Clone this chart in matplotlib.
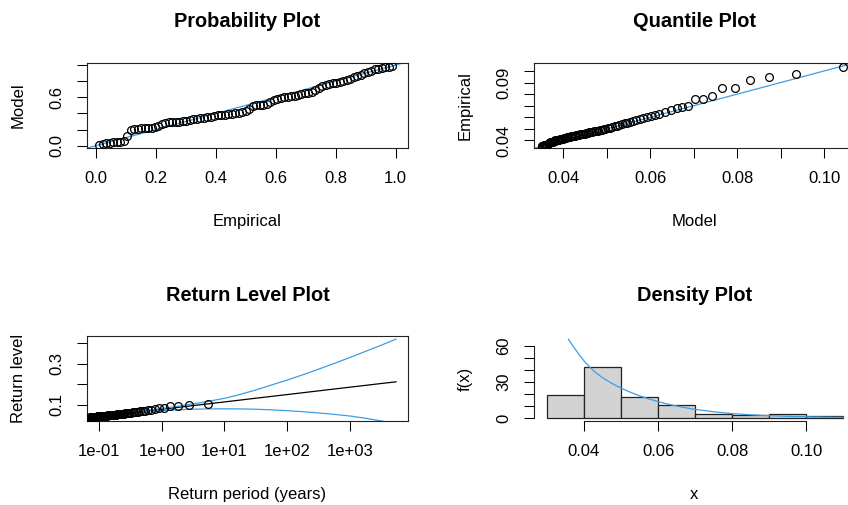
import numpy as np
import matplotlib
matplotlib.use('Agg')
import matplotlib.pyplot as plt

plt.rcParams['font.family'] = ['Liberation Sans', 'DejaVu Sans']

excess = [0.0354, 0.0355, 0.0356, 0.0357, 0.0358, 0.0359, 0.0360, 0.0362, 0.0372, 0.0380,
          0.0384, 0.0386, 0.0388, 0.0391, 0.0394, 0.0398,
          0.0401, 0.0403, 0.0405, 0.0408, 0.0410, 0.0412, 0.0414, 0.0417, 0.0419, 0.0422,
          0.0424, 0.0426, 0.0429, 0.0432, 0.0435, 0.0437, 0.0440, 0.0442, 0.0445, 0.0447,
          0.0450, 0.0452, 0.0455, 0.0458, 0.0460, 0.0463, 0.0466, 0.0469, 0.0472, 0.0475,
          0.0478, 0.0481, 0.0484, 0.0488, 0.0493, 0.0497,
          0.0503, 0.0508, 0.0512, 0.0516, 0.0521, 0.0527, 0.0533, 0.0540, 0.0547, 0.0553,
          0.0561, 0.0569, 0.0578, 0.0586, 0.0595,
          0.0604, 0.0612, 0.0621, 0.0632, 0.0645, 0.0659, 0.0682, 0.0687, 0.0696,
          0.0759, 0.0759, 0.0787, 0.0853, 0.0853, 0.0924, 0.0952, 0.0975, 0.1038]

# model quantiles (x of quantile plot)
model_quant = [0.0350, 0.0352, 0.0354, 0.0355, 0.0357, 0.0359, 0.0361, 0.0363, 0.0365, 0.0367,
               0.0369, 0.0371, 0.0374, 0.0376, 0.0378, 0.0380, 0.0382, 0.0385, 0.0387, 0.0389,
               0.0392, 0.0394, 0.0397, 0.0399, 0.0402, 0.0404, 0.0407, 0.0409, 0.0412, 0.0415,
               0.0418, 0.0421, 0.0424, 0.0427, 0.0430, 0.0433, 0.0436, 0.0439, 0.0442, 0.0446,
               0.0449, 0.0453, 0.0456, 0.0460, 0.0464, 0.0467, 0.0471, 0.0475, 0.0480, 0.0484,
               0.0488, 0.0493, 0.0497, 0.0502, 0.0507, 0.0512, 0.0518, 0.0523, 0.0529, 0.0535,
               0.0541, 0.0547, 0.0554, 0.0561, 0.0568, 0.0576, 0.0584, 0.0592, 0.0601, 0.0610,
               0.0620, 0.0634, 0.0647, 0.0661, 0.0674, 0.0687, 0.0704, 0.0722, 0.0743, 0.0766,
               0.0795, 0.0829, 0.0874, 0.0935, 0.1044]

# model probabilities (y of probability plot)
model_prob = [0.010, 0.018, 0.028, 0.036, 0.042, 0.048, 0.052, 0.062, 0.120, 0.190,
              0.205, 0.210, 0.214, 0.218, 0.222, 0.226, 0.232, 0.245, 0.275, 0.285,
              0.290, 0.292, 0.295, 0.298, 0.305, 0.312, 0.320, 0.328, 0.334, 0.340,
              0.346, 0.354, 0.362, 0.370, 0.378, 0.382, 0.386, 0.392, 0.398, 0.404,
              0.410, 0.418, 0.428, 0.450, 0.495, 0.502, 0.505, 0.508, 0.512, 0.545,
              0.570, 0.580, 0.590, 0.598, 0.605, 0.612, 0.620, 0.630, 0.640, 0.648,
              0.658, 0.668, 0.690, 0.720, 0.735, 0.748, 0.760, 0.772, 0.782, 0.794,
              0.806, 0.818, 0.830, 0.848, 0.862, 0.880, 0.905, 0.915, 0.930, 0.945,
              0.955, 0.965, 0.972, 0.980, 0.988]

hist_breaks = [0.03, 0.04, 0.05, 0.06, 0.07, 0.08, 0.09, 0.10, 0.11]
npy = 15.64  # points per year

# return level curve and confidence bounds
rl_period = [0.1, 0.178, 0.316, 0.562, 1, 1.78, 3.16, 5.62, 10, 17.8,
             31.6, 56.2, 100, 178, 316, 562, 1000, 1778, 3162, 5460]
rl_level = [0.0418, 0.0508, 0.0598, 0.0688, 0.0777, 0.0867, 0.0957, 0.1047, 0.1136, 0.1226,
            0.1316, 0.1406, 0.1495, 0.1585, 0.1675, 0.1765, 0.1854, 0.1944, 0.2034, 0.2115]
rl_upper = [0.044, 0.052, 0.061, 0.071, 0.081, 0.092, 0.104, 0.117, 0.131, 0.150,
            0.172, 0.196, 0.220, 0.246, 0.273, 0.301, 0.330, 0.360, 0.390, 0.420]
rl_lower = [0.040, 0.048, 0.056, 0.065, 0.071, 0.075, 0.078, 0.0795, 0.080, 0.0795,
            0.078, 0.075, 0.071, 0.066, 0.060, 0.053, 0.045, 0.034, 0.021, 0.008]

# fitted density
dens_x = [0.0358, 0.037, 0.0385, 0.040, 0.0415, 0.043, 0.045, 0.0475, 0.050, 0.0525,
          0.055, 0.0575, 0.060, 0.0625, 0.065, 0.0675, 0.070, 0.075, 0.080, 0.085,
          0.090, 0.095, 0.100, 0.105, 0.110]
dens_y = [65.6, 60.0, 53.5, 47.5, 42.5, 38.2, 33.5, 28.8, 24.8, 21.4,
          18.4, 15.8, 13.6, 11.6, 9.9, 8.4, 7.1, 5.1, 3.6, 2.6,
          1.85, 1.3, 0.92, 0.65, 0.46]

n = len(excess)
emp_p = np.arange(1, n + 1) / (n + 1)
ret_period = 1 / ((1 - emp_p) * npy)

blue = '#3d9de3'
pt = dict(ls='none', marker='o', ms=5.6, mfc='none', mec='black', mew=0.9, zorder=3)

fig = plt.figure(figsize=(8.48, 5.05), dpi=100)
ax1 = fig.add_axes([0.1026, 0.7069, 0.3785, 0.1693])
ax2 = fig.add_axes([0.6297, 0.7069, 0.3785, 0.1693])
ax3 = fig.add_axes([0.1026, 0.1663, 0.3785, 0.1683])
ax4 = fig.add_axes([0.6297, 0.1663, 0.3785, 0.1683])


def style(ax, title, xlab, ylab):
    ax.set_title(title, fontsize=14.4, fontweight='bold', y=1.41, pad=0)
    ax.set_xlabel(xlab, fontsize=12, va='baseline')
    ax.set_ylabel(ylab, fontsize=12, va='baseline')
    ax.xaxis.set_label_coords(0.5, -0.915)
    ax.yaxis.set_label_coords(-0.2, 0.5)
    ax.tick_params(length=7, width=0.75, pad=9.5, labelsize=12, direction='out')
    ax.tick_params(axis='y', labelrotation=90)
    for lab in ax.get_yticklabels():
        lab.set_va('center')
    for s in ax.spines.values():
        s.set_linewidth(0.8)
        s.set_color('#222222')


# Probability plot
ax1.plot(emp_p, model_prob, **pt)
ax1.axline((0, 0), slope=1, color=blue, lw=0.9)
ax1.set_xlim(-0.029, 1.041)
ax1.set_ylim(-0.028, 1.031)
ax1.set_xticks([0, 0.2, 0.4, 0.6, 0.8, 1.0])
ax1.set_xticklabels(['0.0', '0.2', '0.4', '0.6', '0.8', '1.0'])
ax1.set_yticks([0, 0.2, 0.4, 0.6, 0.8, 1.0])
ax1.set_yticklabels(['0.0', '', '', '0.6', '', ''])
style(ax1, 'Probability Plot', 'Empirical', 'Model')

# Quantile plot
ax2.plot(model_quant, excess, **pt)
ax2.axline((0.05, 0.05), slope=1, color=blue, lw=0.9)
ax2.set_xlim(0.03326, 0.1071)
ax2.set_ylim(0.0335, 0.1073)
ax2.set_xticks([0.04, 0.05, 0.06, 0.07, 0.08, 0.09, 0.10])
ax2.set_xticklabels(['0.04', '', '0.06', '', '0.08', '', '0.10'])
ax2.set_yticks([0.04, 0.05, 0.06, 0.07, 0.08, 0.09, 0.10])
ax2.set_yticklabels(['0.04', '', '', '', '', '0.09', ''])
style(ax2, 'Quantile Plot', 'Model', 'Empirical')

# Return level plot
ax3.plot(rl_period, rl_level, color='black', lw=0.9)
ax3.plot(rl_period, rl_upper, color=blue, lw=0.9)
ax3.plot(rl_period, rl_lower, color=blue, lw=0.9)
ax3.plot(ret_period, excess, **pt)
ax3.set_xscale('log')
ax3.set_xlim(10 ** -1.191, 10 ** 3.928)
ax3.set_ylim(0.0205, 0.435)
ax3.set_xticks([0.1, 1, 10, 100, 1000])
ax3.set_xticklabels(['1e-01', '1e+00', '1e+01', '1e+02', '1e+03'])
ax3.xaxis.set_minor_locator(matplotlib.ticker.NullLocator())
ax3.set_yticks([0.1, 0.2, 0.3, 0.4])
ax3.set_yticklabels(['0.1', '', '0.3', ''])
style(ax3, 'Return Level Plot', 'Return period (years)', 'Return level')

# Density plot
ax4.hist(excess, bins=hist_breaks, density=True, color='#d3d3d3', edgecolor='#222222', lw=0.9)
ax4.plot(dens_x, dens_y, color=blue, lw=0.9)
ax4.set_xlim(0.0265, 0.1132)
ax4.set_ylim(-2.6, 68.2)
ax4.set_xticks([0.04, 0.06, 0.08, 0.10])
ax4.set_xticklabels(['0.04', '0.06', '0.08', '0.10'])
ax4.set_yticks([0, 10, 20, 30, 40, 50, 60])
ax4.set_yticklabels(['0', '', '', '30', '', '', '60'])
style(ax4, 'Density Plot', 'x', 'f(x)')
ax4.spines['top'].set_visible(False)
ax4.spines['right'].set_visible(False)
ax4.spines['left'].set_bounds(0, 60)
ax4.spines['bottom'].set_bounds(0.04, 0.10)

fig.savefig('out.png', dpi=100)
